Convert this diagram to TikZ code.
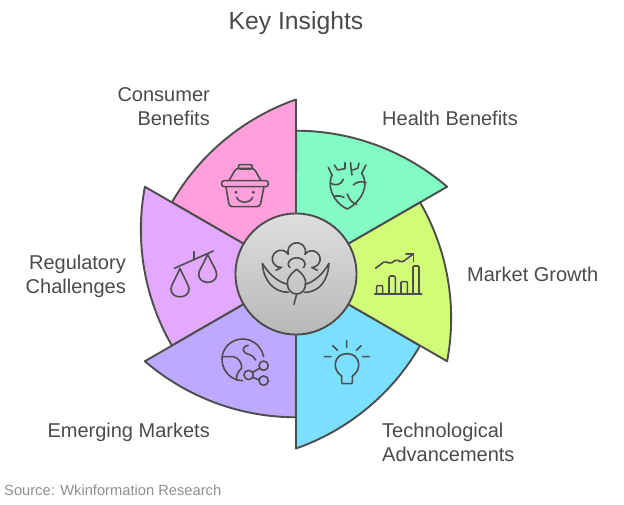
\documentclass[tikz,border=0pt]{standalone}
\usepackage{fontspec}
\setmainfont{Liberation Sans}
\begin{document}
\begin{tikzpicture}[
        x=1pt, y=1pt,
        sector/.style={draw=edgegray, line width=1.9pt, line join=round},
        glyph/.style={draw=edgegray, line width=1.6pt, line cap=round, line join=round},
        zoomed/.style={x=0.3333pt, y=-0.3333pt},
        label/.style={text=labelgray, font=\fontsize{20}{24}\selectfont, inner sep=0pt}
    ]
        \definecolor{edgegray}{HTML}{4D4D4D}
        \definecolor{labelgray}{HTML}{4A4A4A}
        \definecolor{sourcegray}{HTML}{8F8F8F}
        \definecolor{hubtop}{HTML}{DEDEDE}
        \definecolor{hubbottom}{HTML}{B8B8B8}
        \definecolor{healthgreen}{HTML}{82FBC4}
        \definecolor{consumerpink}{HTML}{FF9FDC}
        \definecolor{regulatorypurple}{HTML}{E2A9FF}
        \definecolor{emergingblue}{HTML}{BBAAFF}
        \definecolor{techcyan}{HTML}{7BDFFF}
        \definecolor{marketlime}{HTML}{D2FB78}
        \useasboundingbox (-296,-231) rectangle (328,274);
        % sectors, rotated round the hub
        \foreach \rot/\col in {0/healthgreen, 60/consumerpink, 120/regulatorypurple, 180/emergingblue, 240/techcyan, 300/marketlime} {
            \filldraw[sector, fill=\col, rotate=\rot] (30:174.5) arc[start angle=49.3, end angle=90, radius=231.6] -- (90:60) arc[start angle=90, end angle=30, radius=60] -- cycle;
        }
        \draw[sector, top color=hubtop, bottom color=hubbottom] (0,0) circle (60.5);
        % hub flower
        \begin{scope}[shift={(-41,39)}, zoomed]
            \draw[glyph] (100,58) arc[start angle=162, end angle=378, radius=26.5];
            \draw[glyph] (63,106) -- (80,97) (100,58) arc[start angle=-32, end angle=-275, radius=26];
            \draw[glyph] (187,106) -- (170,97) (150,58) arc[start angle=-145, end angle=85, radius=25];
            \draw[glyph] (105,98) .. controls (90,82) and (110,68) .. (125,68) .. controls (140,68) and (160,82) .. (145,98);
            \draw[glyph] (22,85) .. controls (25,135) and (55,172) .. (100,172) (22,85) .. controls (40,115) and (65,140) .. (98,148);
            \draw[glyph] (222,85) .. controls (219,135) and (195,172) .. (148,172) (222,85) .. controls (205,115) and (180,140) .. (150,148);
            \draw[glyph] (125,103) .. controls (105,118) and (97,130) .. (97,145) .. controls (97,165) and (110,177) .. (125,177) .. controls (140,177) and (152,165) .. (152,145) .. controls (152,130) and (145,118) .. (125,103);
            \draw[glyph] (125,177) -- (117,208);
        \end{scope}
        % basket
        \begin{scope}[shift={(-166,184)}, zoomed]
            \draw[glyph, rounded corners=2.5pt] (275,272) rectangle (415,290);
            \draw[glyph, rounded corners=3pt] (288,290) -- (298,350) -- (390,350) -- (402,290);
            \draw[glyph, rounded corners=3pt] (297,272) -- (318,235) -- (372,235) -- (393,272);
            \draw[glyph, rounded corners=2pt] (325,224) rectangle (367,237);
            \fill[edgegray] (318,307) circle (5) (370,307) circle (5);
            \draw[glyph] (320,322) .. controls (328,342) and (360,342) .. (368,322);
        \end{scope}
        % heart
        \begin{scope}[shift={(-6,154)}, zoomed]
            \draw[glyph] (126,165) .. controls (112,195) and (125,245) .. (172,267) .. controls (215,245) and (240,195) .. (215,160);
            \draw[glyph] (115,142) -- (126,165) (133,135) -- (143,150) -- (165,146) -- (165,128);
            \draw[glyph] (182,128) .. controls (182,145) and (185,155) .. (186,165) (207,130) -- (203,145) -- (188,150) (228,135) -- (215,160);
            \draw[glyph] (122,190) .. controls (135,198) and (155,195) .. (160,178) (135,228) .. controls (145,227) and (155,228) .. (162,232);
            \draw[glyph] (190,195) .. controls (200,185) and (215,183) .. (228,188) (172,222) .. controls (178,240) and (188,250) .. (200,253);
        \end{scope}
        % chart
        \begin{scope}[shift={(-6,154)}, zoomed]
            \draw[glyph] (254,522) -- (395,522);
            \draw[glyph, rounded corners=1pt] (260,522) -- (260,497) -- (278,497) -- (278,522);
            \draw[glyph, rounded corners=2pt] (297,522) -- (297,468) -- (316,468) -- (316,522);
            \draw[glyph, rounded corners=1pt] (333,522) -- (333,485) -- (352,485) -- (352,522);
            \draw[glyph, rounded corners=1pt] (369,522) -- (369,438) -- (387,438) -- (387,522);
            \draw[glyph, rounded corners=2pt] (257,445) -- (285,423) -- (300,432) -- (320,418) -- (335,428) -- (370,402);
            \draw[glyph] (348,402) -- (370,402) -- (370,425);
        \end{scope}
        % bulb
        \begin{scope}[shift={(-6,-16)}, zoomed]
            \draw[glyph] (170,152) -- (170,172) (128,167) -- (143,181) (213,167) -- (199,181) (103,200) -- (123,200) (218,200) -- (238,200);
            \draw[glyph, rounded corners=1pt] (155,258) -- (155,281) -- (187,281) -- (187,258);
            \draw[glyph] (155,258) .. controls (125,240) and (130,191) .. (171,191) .. controls (212,191) and (217,240) .. (187,258);
        \end{scope}
        % globe
        \begin{scope}[shift={(-161,-26)}, zoomed]
            \draw[glyph] (386,170) .. controls (378,135) and (350,117) .. (323,117) .. controls (288,117) and (261,145) .. (261,178) .. controls (261,212) and (288,242) .. (323,242);
            \draw[glyph] (262,170) -- (295,170) .. controls (310,172) and (322,190) .. (320,205) .. controls (312,212) and (303,222) .. (305,240);
            \draw[glyph] (362,180) .. controls (352,162) and (340,165) .. (330,158) .. controls (320,150) and (325,138) .. (340,136);
            \draw[glyph] (386,197) circle (14) (341,225) circle (14) (386,242) circle (14);
            \draw[glyph] (353,217) -- (374,205) (353,232) -- (374,240);
        \end{scope}
        % scales
        \begin{scope}[shift={(-131,34)}, zoomed]
            \draw[glyph] (28,85) -- (145,33) (87,35) -- (87,60);
            \draw[glyph] (45,85) .. controls (30,120) and (18,135) .. (18,148) .. controls (18,178) and (72,178) .. (72,148) .. controls (72,135) and (55,110) .. (45,85);
            \draw[glyph] (128,43) .. controls (115,75) and (101,90) .. (101,103) .. controls (101,135) and (155,135) .. (155,103) .. controls (155,90) and (140,70) .. (128,43);
        \end{scope}
        % labels
        \node[text=labelgray, font=\fontsize{24.7}{28}\selectfont, inner sep=0pt] (title) at (0,251) {Key Insights};
        \node[label, anchor=east, align=right] (consumer) at (-86,167.5) {Consumer\\Benefits};
        \node[label, anchor=west, align=left] (health) at (86,155.5) {Health Benefits};
        \node[label, anchor=west, align=left] (market) at (171,-0.5) {Market Growth};
        \node[label, anchor=west, align=left] (tech) at (86,-168.5) {Technological\\Advancements};
        \node[label, anchor=east, align=right] (emerging) at (-86,-158) {Emerging Markets};
        \node[label, anchor=east, align=right] (regulatory) at (-170,-2) {Regulatory\\Challenges};
        \node[text=sourcegray, font=\fontsize{14.7}{16}\selectfont, inner sep=0pt, anchor=west] (source) at (-292,-216) {Source: Wkinformation Research};
    \end{tikzpicture}
\end{document}
